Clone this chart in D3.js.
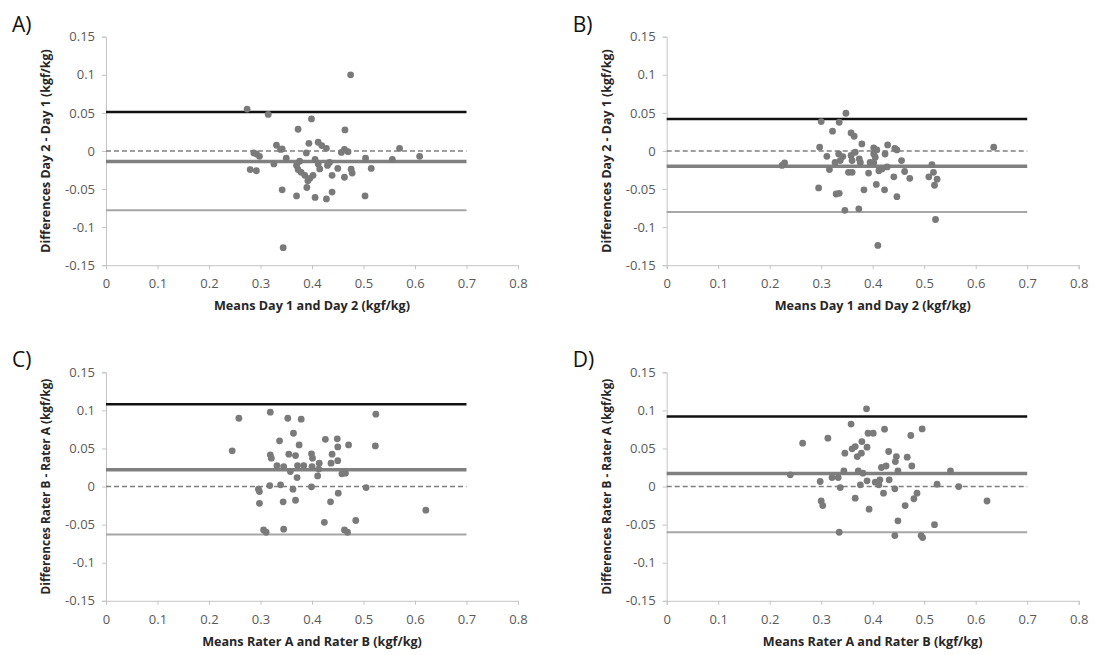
<!DOCTYPE html>
<html>
<head>
<meta charset="utf-8">
<script src="https://cdn.jsdelivr.net/npm/d3@7"></script>
<style>
  body { margin: 0; background: #fff; }
  svg { display: block; font-family: "Open Sans", "Liberation Sans", sans-serif; }
</style>
</head>
<body>
<svg id="chart" width="1095" height="655"></svg>
<script>
const WIDTH = 1095
const HEIGHT = 655

// x ticks / y ticks shared by all four panels
const xTicks = [0, 0.1, 0.2, 0.3, 0.4, 0.5, 0.6, 0.7, 0.8]
const yTicks = [-0.15, -0.1, -0.05, 0, 0.05, 0.1, 0.15]

const panelLabels = ['A)', 'B)', 'C)', 'D)']
const xTitles = ['Means Day 1 and Day 2 (kgf/kg)', 'Means Day 1 and Day 2 (kgf/kg)',
    'Means Rater A and Rater B (kgf/kg)', 'Means Rater A and Rater B (kgf/kg)']
const yTitles = ['Differences Day 2 - Day 1 (kgf/kg)', 'Differences Day 2 - Day 1 (kgf/kg)',
    'Differences Rater B - Rater A (kgf/kg)', 'Differences Rater B - Rater A (kgf/kg)']

// [upper limit, mean difference, lower limit]
const limitsA = [0.051, -0.014, -0.078]
const limitsB = [0.042, -0.020, -0.080]
const limitsC = [0.108, 0.022, -0.063]
const limitsD = [0.092, 0.017, -0.060]

// [mean, difference]
const pointsA = [
    [0.475, 0.100], [0.274, 0.055], [0.315, 0.048], [0.399, 0.042], [0.373, 0.0285],
    [0.464, 0.0276], [0.394, 0.010], [0.412, 0.0114], [0.419, 0.007], [0.428, 0.0035],
    [0.331, 0.0075], [0.342, 0.0026], [0.339, 0.002], [0.287, -0.0026], [0.298, -0.007],
    [0.292, -0.004], [0.389, -0.0026], [0.457, -0.002], [0.463, 0.002], [0.470, -0.001],
    [0.570, 0.0035], [0.609, -0.007], [0.350, -0.0096], [0.326, -0.017], [0.376, -0.0135],
    [0.406, -0.011], [0.504, -0.0096], [0.556, -0.011], [0.280, -0.0245], [0.292, -0.026],
    [0.370, -0.019], [0.373, -0.0245], [0.379, -0.028], [0.412, -0.017], [0.415, -0.0236],
    [0.430, -0.019], [0.434, -0.015], [0.450, -0.023], [0.439, -0.032], [0.463, -0.0345],
    [0.476, -0.024], [0.478, -0.029], [0.515, -0.023], [0.386, -0.032], [0.396, -0.036],
    [0.402, -0.032], [0.392, -0.039], [0.390, -0.048], [0.342, -0.051], [0.370, -0.059],
    [0.406, -0.061], [0.428, -0.063], [0.439, -0.054], [0.503, -0.059], [0.344, -0.127]
]
const pointsB = [
    [0.348, 0.0495], [0.300, 0.0386], [0.335, 0.0377], [0.322, 0.026], [0.358, 0.0237],
    [0.364, 0.0193], [0.379, 0.0092], [0.297, 0.0049], [0.402, 0.004], [0.408, 0.0013],
    [0.429, 0.0079], [0.443, 0.0035], [0.447, 0.0013], [0.635, 0.0049], [0.311, -0.007],
    [0.334, -0.004], [0.342, -0.0074], [0.358, -0.006], [0.366, -0.0017], [0.374, -0.0105],
    [0.402, -0.004], [0.405, -0.0083], [0.424, -0.004], [0.224, -0.019], [0.229, -0.0157],
    [0.327, -0.015], [0.337, -0.0126], [0.360, -0.0126], [0.376, -0.015], [0.316, -0.0245],
    [0.353, -0.028], [0.360, -0.028], [0.392, -0.029], [0.402, -0.015], [0.412, -0.026],
    [0.418, -0.0236], [0.428, -0.021], [0.456, -0.0126], [0.462, -0.027], [0.472, -0.036],
    [0.441, -0.034], [0.515, -0.018], [0.518, -0.028], [0.509, -0.034], [0.525, -0.037],
    [0.520, -0.045], [0.295, -0.0486], [0.329, -0.0565], [0.335, -0.0556], [0.383, -0.051],
    [0.407, -0.044], [0.423, -0.051], [0.447, -0.060], [0.346, -0.078], [0.373, -0.076],
    [0.522, -0.090], [0.410, -0.124], [0.395, -0.015]
]
const pointsC = [
    [0.319, 0.0976], [0.258, 0.0897], [0.353, 0.0897], [0.379, 0.0884], [0.524, 0.095],
    [0.364, 0.070], [0.337, 0.060], [0.426, 0.062], [0.449, 0.0626], [0.450, 0.052],
    [0.471, 0.0547], [0.523, 0.0534], [0.375, 0.0547], [0.245, 0.0469], [0.319, 0.0416],
    [0.321, 0.0373], [0.355, 0.0425], [0.368, 0.0407], [0.399, 0.043], [0.401, 0.0373],
    [0.439, 0.0425], [0.450, 0.034], [0.437, 0.0307], [0.414, 0.0307], [0.332, 0.0276],
    [0.345, 0.026], [0.358, 0.0197], [0.372, 0.0276], [0.384, 0.0276], [0.400, 0.026],
    [0.413, 0.023], [0.371, 0.0118], [0.411, 0.014], [0.458, 0.0167], [0.465, 0.0175],
    [0.296, -0.0034], [0.298, -0.0066], [0.318, 0.0013], [0.339, 0.0022], [0.363, -0.0034],
    [0.399, -0.0004], [0.505, -0.0013], [0.298, -0.022], [0.344, -0.020], [0.368, -0.018],
    [0.436, -0.020], [0.451, -0.0087], [0.621, -0.031], [0.424, -0.047], [0.485, -0.0446],
    [0.306, -0.057], [0.311, -0.060], [0.345, -0.056], [0.463, -0.057], [0.469, -0.060]
]
const pointsD = [
    [0.388, 0.102], [0.358, 0.082], [0.264, 0.057], [0.313, 0.0635], [0.391, 0.070],
    [0.401, 0.070], [0.423, 0.0753], [0.496, 0.0757], [0.474, 0.067], [0.379, 0.059],
    [0.389, 0.0517], [0.366, 0.0525], [0.360, 0.0495], [0.346, 0.0438], [0.378, 0.0438],
    [0.370, 0.0394], [0.431, 0.046], [0.446, 0.0394], [0.444, 0.0328], [0.467, 0.0386],
    [0.476, 0.027], [0.417, 0.025], [0.426, 0.027], [0.344, 0.0206], [0.372, 0.0206],
    [0.381, 0.0176], [0.449, 0.0206], [0.551, 0.0206], [0.240, 0.0154], [0.321, 0.0118],
    [0.333, 0.0118], [0.298, 0.0066], [0.337, -0.0013], [0.376, 0.0022], [0.389, 0.0075],
    [0.405, 0.0057], [0.414, 0.0088], [0.412, 0.0022], [0.432, 0.0088], [0.443, -0.003],
    [0.525, 0.003], [0.567, 0.0], [0.421, -0.0087], [0.366, -0.0153], [0.300, -0.019],
    [0.303, -0.025], [0.393, -0.0297], [0.486, -0.0087], [0.480, -0.016], [0.463, -0.025],
    [0.622, -0.019], [0.449, -0.045], [0.520, -0.050], [0.335, -0.060], [0.443, -0.0643],
    [0.494, -0.0643], [0.497, -0.067]
]

const allPoints = [pointsA, pointsB, pointsC, pointsD]
const allLimits = [limitsA, limitsB, limitsC, limitsD]

// plot-area positions in the page
const plotLefts = [106, 666.7, 106, 666.7]
const plotTops = [36.7, 36.7, 372.3, 372.3]
const plotW = 412
const plotH = 228.5
// the Rater titles are longer, so they get a slightly smaller size
const yTitleSizes = [12.4, 12.4, 11.8, 11.8]

const svg = d3.select('#chart')

// plain hyphen for negatives, like the spreadsheet original
const fmt = (d, p) => String(+d.toFixed(p))

panelLabels.forEach((label, i) => {
    const left = plotLefts[i]
    const top = plotTops[i]

    const x = d3.scaleLinear().domain([0, 0.8]).range([left, left + plotW])
    const y = d3.scaleLinear().domain([-0.15, 0.15]).range([top + plotH, top])

    const g = svg.append('g')

    // panel letter
    g.append('text')
        .text(label)
        .attr('x', left - 94)
        .attr('y', top - 5)
        .attr('font-size', 21)
        .attr('fill', '#111')

    // y axis
    const yAxis = g.append('g')
        .attr('transform', `translate(${left},0)`)
        .call(d3.axisLeft(y).tickValues(yTicks).tickSize(4).tickPadding(7)
            .tickFormat(d => fmt(d, 2)))
    // x axis
    const xAxis = g.append('g')
        .attr('transform', `translate(0,${top + plotH})`)
        .call(d3.axisBottom(x).tickValues(xTicks).tickSize(4).tickPadding(10)
            .tickFormat(d => fmt(d, 1)))

    ;[yAxis, xAxis].forEach(ax => {
        ax.select('.domain').attr('stroke', '#c4c4c4')
        ax.selectAll('.tick line').attr('stroke', '#c4c4c4')
        ax.selectAll('.tick text')
            .attr('fill', '#595959')
            .attr('font-size', 13)
            .attr('font-family', '"Open Sans", sans-serif')
    })

    // axis titles
    g.append('text')
        .text(xTitles[i])
        .attr('x', left + plotW * 0.5)
        .attr('y', top + plotH + 45)
        .attr('text-anchor', 'middle')
        .attr('font-size', 12.6)
        .attr('font-weight', 'bold')
        .attr('fill', '#262626')

    g.append('text')
        .text(yTitles[i])
        .attr('transform', `translate(${left - 56},${top + plotH / 2}) rotate(-90)`)
        .attr('text-anchor', 'middle')
        .attr('font-size', yTitleSizes[i])
        .attr('font-weight', 'bold')
        .attr('fill', '#262626')

    // zero reference line
    g.append('line')
        .attr('x1', x(0)).attr('x2', x(0.7))
        .attr('y1', y(0)).attr('y2', y(0))
        .attr('stroke', '#7f7f7f')
        .attr('stroke-width', 1.5)
        .attr('stroke-dasharray', '5,3')

    // limits of agreement and mean difference
    const lim = allLimits[i]
    const limStyles = [
        { color: '#111', width: 2.5 },
        { color: '#808080', width: 3.5 },
        { color: '#a6a6a6', width: 2 }
    ]
    g.selectAll('line.limit')
        .data(lim)
        .join('line')
        .attr('class', 'limit')
        .attr('x1', x(0)).attr('x2', x(0.7))
        .attr('y1', d => y(d)).attr('y2', d => y(d))
        .attr('stroke', (d, k) => limStyles[k].color)
        .attr('stroke-width', (d, k) => limStyles[k].width)

    // points
    g.selectAll('circle')
        .data(allPoints[i])
        .join('circle')
        .attr('cx', d => x(d[0]))
        .attr('cy', d => y(d[1]))
        .attr('r', 3.4)
        .attr('fill', '#7a7a7a')
})
</script>
</body>
</html>
